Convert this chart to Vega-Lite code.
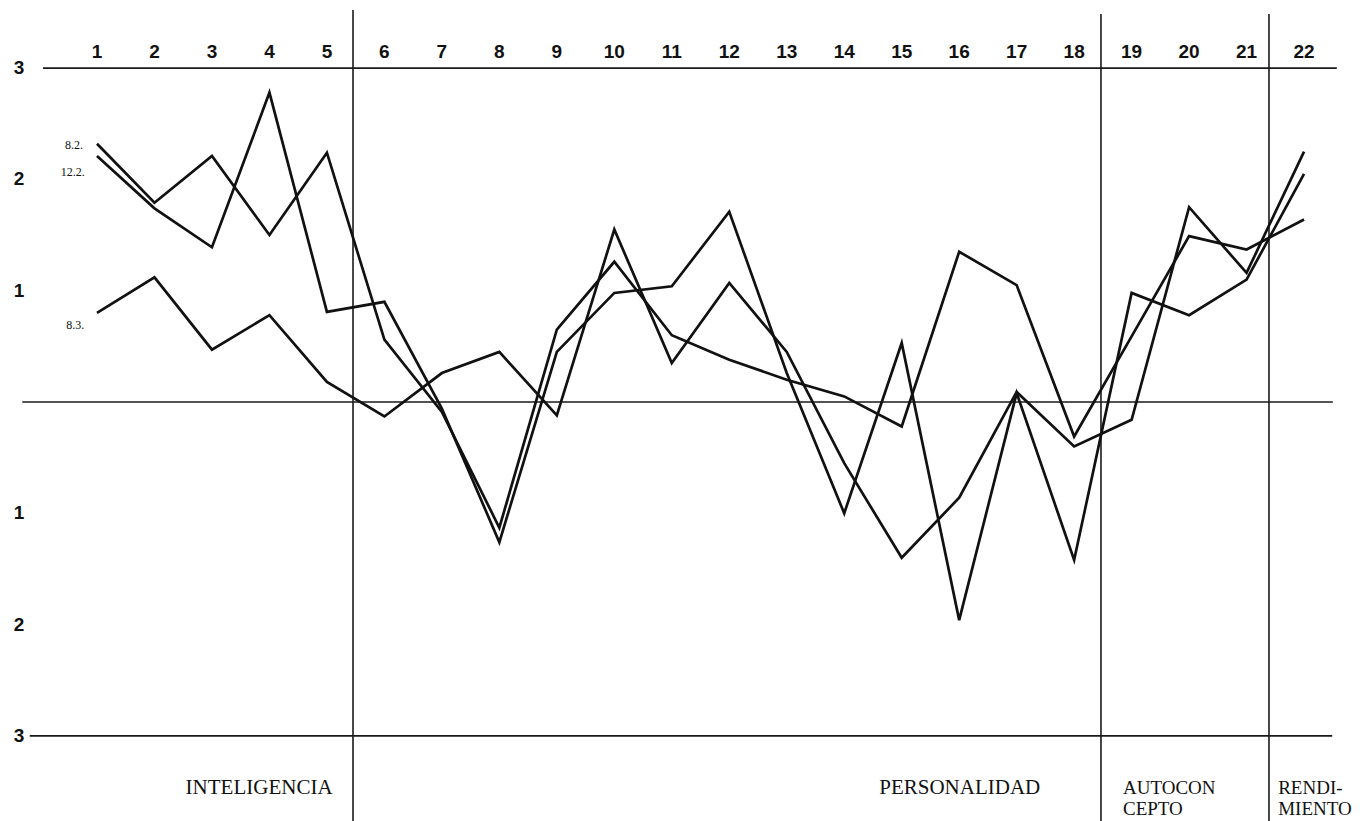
{
  "$schema": "https://vega.github.io/schema/vega-lite/v6.json",
  "width": 1369,
  "height": 821,
  "autosize": {"type": "none"},
  "padding": 0,
  "background": "white",
  "config": {"view": {"stroke": null}},
  "datasets": {
    "pts": [
      {"s": "8.2", "x": 1, "y": 2.32}, {"s": "8.2", "x": 2, "y": 1.79}, {"s": "8.2", "x": 3, "y": 2.21}, {"s": "8.2", "x": 4, "y": 1.50}, {"s": "8.2", "x": 5, "y": 2.24}, {"s": "8.2", "x": 6, "y": 0.56}, {"s": "8.2", "x": 7, "y": -0.09}, {"s": "8.2", "x": 8, "y": -1.13}, {"s": "8.2", "x": 9, "y": 0.65}, {"s": "8.2", "x": 10, "y": 1.26}, {"s": "8.2", "x": 11, "y": 0.60}, {"s": "8.2", "x": 12, "y": 0.38}, {"s": "8.2", "x": 13, "y": 0.20}, {"s": "8.2", "x": 14, "y": 0.05}, {"s": "8.2", "x": 15, "y": -0.22}, {"s": "8.2", "x": 16, "y": 1.35}, {"s": "8.2", "x": 17, "y": 1.05}, {"s": "8.2", "x": 18, "y": -0.31}, {"s": "8.2", "x": 19, "y": 0.59}, {"s": "8.2", "x": 20, "y": 1.49}, {"s": "8.2", "x": 21, "y": 1.37}, {"s": "8.2", "x": 22, "y": 1.64},
      {"s": "12.2", "x": 1, "y": 2.21}, {"s": "12.2", "x": 2, "y": 1.74}, {"s": "12.2", "x": 3, "y": 1.39}, {"s": "12.2", "x": 4, "y": 2.78}, {"s": "12.2", "x": 5, "y": 0.81}, {"s": "12.2", "x": 6, "y": 0.90}, {"s": "12.2", "x": 7, "y": -0.06}, {"s": "12.2", "x": 8, "y": -1.26}, {"s": "12.2", "x": 9, "y": 0.45}, {"s": "12.2", "x": 10, "y": 0.98}, {"s": "12.2", "x": 11, "y": 1.04}, {"s": "12.2", "x": 12, "y": 1.71}, {"s": "12.2", "x": 13, "y": 0.26}, {"s": "12.2", "x": 14, "y": -1.00}, {"s": "12.2", "x": 15, "y": 0.53}, {"s": "12.2", "x": 16, "y": -1.96}, {"s": "12.2", "x": 17, "y": 0.08}, {"s": "12.2", "x": 18, "y": -1.42}, {"s": "12.2", "x": 19, "y": 0.98}, {"s": "12.2", "x": 20, "y": 0.78}, {"s": "12.2", "x": 21, "y": 1.10}, {"s": "12.2", "x": 22, "y": 2.05},
      {"s": "8.3", "x": 1, "y": 0.80}, {"s": "8.3", "x": 2, "y": 1.12}, {"s": "8.3", "x": 3, "y": 0.47}, {"s": "8.3", "x": 4, "y": 0.78}, {"s": "8.3", "x": 5, "y": 0.18}, {"s": "8.3", "x": 6, "y": -0.13}, {"s": "8.3", "x": 7, "y": 0.26}, {"s": "8.3", "x": 8, "y": 0.45}, {"s": "8.3", "x": 9, "y": -0.12}, {"s": "8.3", "x": 10, "y": 1.55}, {"s": "8.3", "x": 11, "y": 0.35}, {"s": "8.3", "x": 12, "y": 1.07}, {"s": "8.3", "x": 13, "y": 0.45}, {"s": "8.3", "x": 14, "y": -0.55}, {"s": "8.3", "x": 15, "y": -1.40}, {"s": "8.3", "x": 16, "y": -0.86}, {"s": "8.3", "x": 17, "y": 0.09}, {"s": "8.3", "x": 18, "y": -0.40}, {"s": "8.3", "x": 19, "y": -0.16}, {"s": "8.3", "x": 20, "y": 1.75}, {"s": "8.3", "x": 21, "y": 1.16}, {"s": "8.3", "x": 22, "y": 2.25}
    ],
    "hrules": [
      {"x": 0.06, "x2": 22.57, "y": 3},
      {"x": -0.30, "x2": 22.50, "y": 0},
      {"x": -0.17, "x2": 22.49, "y": -3}
    ],
    "vrules": [
      {"x": 5.454, "y": 3.522, "y2": -3.765},
      {"x": 18.467, "y": 3.486, "y2": -3.765},
      {"x": 21.39, "y": 3.486, "y2": -3.765}
    ],
    "toplabels": [
      {"x": 1, "y": 3.145, "t": "1"}, {"x": 2, "y": 3.145, "t": "2"}, {"x": 3, "y": 3.145, "t": "3"}, {"x": 4, "y": 3.145, "t": "4"}, {"x": 5, "y": 3.145, "t": "5"}, {"x": 6, "y": 3.145, "t": "6"}, {"x": 7, "y": 3.145, "t": "7"}, {"x": 8, "y": 3.145, "t": "8"}, {"x": 9, "y": 3.145, "t": "9"}, {"x": 10, "y": 3.145, "t": "10"}, {"x": 11, "y": 3.145, "t": "11"}, {"x": 12, "y": 3.145, "t": "12"}, {"x": 13, "y": 3.145, "t": "13"}, {"x": 14, "y": 3.145, "t": "14"}, {"x": 15, "y": 3.145, "t": "15"}, {"x": 16, "y": 3.145, "t": "16"}, {"x": 17, "y": 3.145, "t": "17"}, {"x": 18, "y": 3.145, "t": "18"}, {"x": 19, "y": 3.145, "t": "19"}, {"x": 20, "y": 3.145, "t": "20"}, {"x": 21, "y": 3.145, "t": "21"}, {"x": 22, "y": 3.145, "t": "22"}
    ],
    "ylabels": [
      {"x": -0.357, "y": 3, "t": "3"}, {"x": -0.357, "y": 2, "t": "2"}, {"x": -0.357, "y": 1, "t": "1"},
      {"x": -0.357, "y": -1, "t": "1"}, {"x": -0.357, "y": -2, "t": "2"}, {"x": -0.357, "y": -3, "t": "3"}
    ],
    "serieslabels": [
      {"x": 0.6, "y": 2.31, "t": "8.2."},
      {"x": 0.58, "y": 2.07, "t": "12.2."},
      {"x": 0.62, "y": 0.69, "t": "8.3."}
    ],
    "centerlabels": [
      {"x": 3.82, "y": -3.47, "t": "INTELIGENCIA"},
      {"x": 16.01, "y": -3.47, "t": "PERSONALIDAD"}
    ],
    "leftlabels": [
      {"x": 18.85, "y": -3.47, "t": "AUTOCON\nCEPTO"},
      {"x": 21.55, "y": -3.47, "t": "RENDI-\nMIENTO"}
    ]
  },
  "layer": [
    {
      "data": {"name": "hrules"},
      "mark": {"type": "rule", "color": "#1a1a1a", "strokeWidth": 1.6},
      "encoding": {
        "x": {"field": "x", "type": "quantitative", "scale": {"domain": [-0.6876, 23.13], "nice": false, "zero": false}, "axis": null},
        "x2": {"field": "x2"},
        "y": {"field": "y", "type": "quantitative", "scale": {"domain": [-3.765, 3.612], "nice": false, "zero": false}, "axis": null}
      }
    },
    {
      "data": {"name": "vrules"},
      "mark": {"type": "rule", "color": "#1a1a1a", "strokeWidth": 1.6},
      "encoding": {
        "x": {"field": "x", "type": "quantitative", "scale": {"domain": [-0.6876, 23.13], "nice": false, "zero": false}, "axis": null},
        "y": {"field": "y", "type": "quantitative", "scale": {"domain": [-3.765, 3.612], "nice": false, "zero": false}, "axis": null},
        "y2": {"field": "y2"}
      }
    },
    {
      "data": {"name": "pts"},
      "mark": {"type": "line", "color": "#111111", "strokeWidth": 2.7, "strokeJoin": "miter"},
      "encoding": {
        "x": {"field": "x", "type": "quantitative", "scale": {"domain": [-0.6876, 23.13], "nice": false, "zero": false}, "axis": null},
        "y": {"field": "y", "type": "quantitative", "scale": {"domain": [-3.765, 3.612], "nice": false, "zero": false}, "axis": null},
        "detail": {"field": "s", "type": "nominal"}
      }
    },
    {
      "data": {"name": "toplabels"},
      "mark": {"type": "text", "font": "Liberation Sans", "fontWeight": "bold", "fontSize": 19, "color": "#111111", "align": "center", "baseline": "middle"},
      "encoding": {
        "x": {"field": "x", "type": "quantitative", "scale": {"domain": [-0.6876, 23.13], "nice": false, "zero": false}, "axis": null},
        "y": {"field": "y", "type": "quantitative", "scale": {"domain": [-3.765, 3.612], "nice": false, "zero": false}, "axis": null},
        "text": {"field": "t"}
      }
    },
    {
      "data": {"name": "ylabels"},
      "mark": {"type": "text", "font": "Liberation Sans", "fontWeight": "bold", "fontSize": 19, "color": "#111111", "align": "center", "baseline": "middle"},
      "encoding": {
        "x": {"field": "x", "type": "quantitative", "scale": {"domain": [-0.6876, 23.13], "nice": false, "zero": false}, "axis": null},
        "y": {"field": "y", "type": "quantitative", "scale": {"domain": [-3.765, 3.612], "nice": false, "zero": false}, "axis": null},
        "text": {"field": "t"}
      }
    },
    {
      "data": {"name": "serieslabels"},
      "mark": {"type": "text", "font": "Liberation Serif", "fontSize": 12, "color": "#111111", "align": "center", "baseline": "middle"},
      "encoding": {
        "x": {"field": "x", "type": "quantitative", "scale": {"domain": [-0.6876, 23.13], "nice": false, "zero": false}, "axis": null},
        "y": {"field": "y", "type": "quantitative", "scale": {"domain": [-3.765, 3.612], "nice": false, "zero": false}, "axis": null},
        "text": {"field": "t"}
      }
    },
    {
      "data": {"name": "centerlabels"},
      "mark": {"type": "text", "font": "Liberation Serif", "fontSize": 21, "color": "#111111", "align": "center", "baseline": "middle"},
      "encoding": {
        "x": {"field": "x", "type": "quantitative", "scale": {"domain": [-0.6876, 23.13], "nice": false, "zero": false}, "axis": null},
        "y": {"field": "y", "type": "quantitative", "scale": {"domain": [-3.765, 3.612], "nice": false, "zero": false}, "axis": null},
        "text": {"field": "t"}
      }
    },
    {
      "data": {"name": "leftlabels"},
      "mark": {"type": "text", "font": "Liberation Serif", "fontSize": 19, "lineHeight": 21, "lineBreak": "\n", "color": "#111111", "align": "left", "baseline": "middle"},
      "encoding": {
        "x": {"field": "x", "type": "quantitative", "scale": {"domain": [-0.6876, 23.13], "nice": false, "zero": false}, "axis": null},
        "y": {"field": "y", "type": "quantitative", "scale": {"domain": [-3.765, 3.612], "nice": false, "zero": false}, "axis": null},
        "text": {"field": "t"}
      }
    }
  ]
}
